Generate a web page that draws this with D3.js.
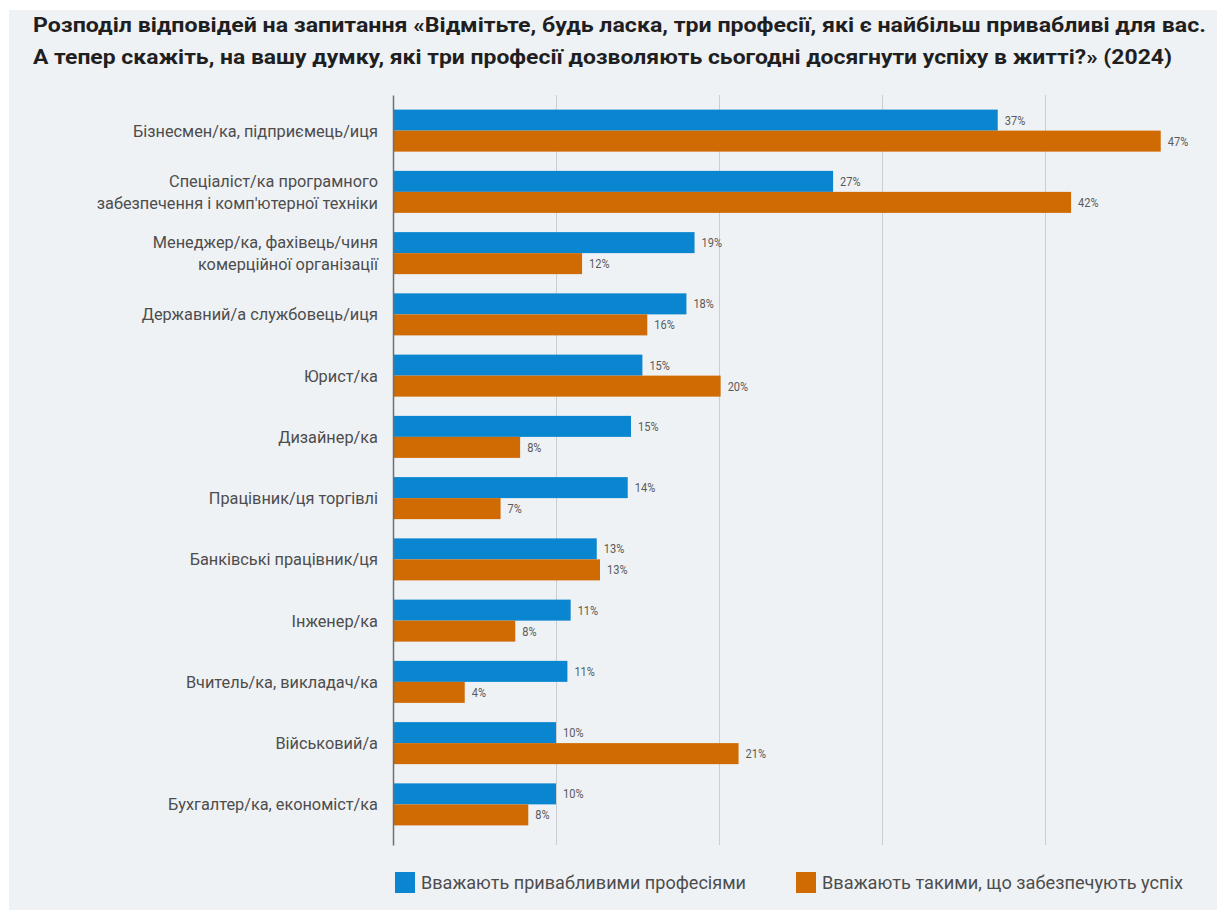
<!DOCTYPE html>
<html><head><meta charset="utf-8">
<script src="https://cdn.jsdelivr.net/npm/d3@7"></script>
<style>body{margin:0;background:#fff}svg{display:block}</style>
</head><body><svg id="c" width="1217" height="910"></svg>
<script>
const titleLines = [
  "Розподіл відповідей на запитання «Відмітьте, будь ласка, три професії, які є найбільш привабливі для вас.",
  "А тепер скажіть, на вашу думку, які три професії дозволяють сьогодні досягнути успіху в житті?» (2024)"
];
const categories = [
  "Бізнесмен/ка, підприємець/иця",
  "Спеціаліст/ка програмного\nзабезпечення і комп'ютерної техніки",
  "Менеджер/ка, фахівець/чиня\nкомерційної організації",
  "Державний/а службовець/иця",
  "Юрист/ка",
  "Дизайнер/ка",
  "Працівник/ця торгівлі",
  "Банківські працівник/ця",
  "Інженер/ка",
  "Вчитель/ка, викладач/ка",
  "Військовий/а",
  "Бухгалтер/ка, економіст/ка"
];
const attractive = [37.1, 27.0, 18.5, 18.0, 15.3, 14.6, 14.4, 12.5, 10.9, 10.7, 10.0, 10.0];
const success    = [47.1, 41.6, 11.6, 15.6, 20.1, 7.8, 6.6, 12.7, 7.5, 4.4, 21.2, 8.3];
const attractiveLabels = ["37%","27%","19%","18%","15%","15%","14%","13%","11%","11%","10%","10%"];
const successLabels    = ["47%","42%","12%","16%","20%","8%","7%","13%","8%","4%","21%","8%"];
const xTicks = [10, 20, 30, 40];
const seriesNames = ["Вважають привабливими професіями", "Вважають такими, що забезпечують успіх"];
const seriesColors = ["#0a86d0", "#d06a02"];

const svg = d3.select("#c");
svg.append("rect").attr("x", 9).attr("y", 10).attr("width", 1208).attr("height", 900).attr("fill", "#eff2f5");

const x = d3.scaleLinear().domain([0, 50]).range([393, 1208]);
const y = d3.scaleBand().domain(categories).range([100, 835]).paddingInner(0.314).paddingOuter(0.157);
const sub = d3.scaleBand().domain([0, 1]).range([0, y.bandwidth()]);

function fitTo(node, w) {
  node.setAttribute("textLength", w);
  node.setAttribute("lengthAdjust", "spacingAndGlyphs");
}

// title
const titleW = [1173, 1139];
svg.append("g").selectAll("text").data(titleLines).join("text")
  .attr("x", 33).attr("y", (d, i) => 32 + i * 32)
  .attr("font-family", "Roboto, 'Noto Sans', sans-serif").attr("font-weight", 700)
  .attr("font-size", 20.5).attr("fill", "#1f1f1f").text(d => d)
  .each(function (d, i) { fitTo(this, titleW[i]); });

// gridlines
const xAxis = d3.axisBottom(x).tickValues(xTicks).tickSize(-750).tickFormat("");
const gx = svg.append("g").attr("transform", "translate(0,845)").call(xAxis);
gx.select(".domain").remove();
gx.selectAll(".tick line").attr("stroke", "#c9ced3").attr("stroke-width", 1);

// bars
const rows = categories.map((c, i) => ({ c, v: [attractive[i], success[i]], l: [attractiveLabels[i], successLabels[i]] }));
const grp = svg.append("g").selectAll("g").data(rows).join("g")
  .attr("transform", d => `translate(0,${y(d.c)})`);
grp.selectAll("rect").data(d => d.v.map((v, k) => ({ v, k }))).join("rect")
  .attr("x", x(0)).attr("y", d => sub(d.k)).attr("height", sub.bandwidth())
  .attr("width", d => x(d.v) - x(0)).attr("fill", d => seriesColors[d.k]);
grp.selectAll("text").data(d => d.v.map((v, k) => ({ v, k, l: d.l[k] }))).join("text")
  .attr("x", d => x(d.v) + 7).attr("y", d => sub(d.k) + sub.bandwidth() / 2)
  .attr("dy", "0.35em").attr("font-family", "Roboto, sans-serif").attr("font-weight", 400)
  .attr("font-size", 13).attr("fill", "#5a5a5a").text(d => d.l)
  .each(function () { fitTo(this, this.getComputedTextLength() * 0.85); });

// zero axis
svg.append("g").attr("transform", `translate(${x(0)},0)`)
  .call(d3.axisLeft(d3.scaleLinear().range([95, 845])).ticks(0).tickSize(0))
  .select(".domain").attr("stroke", "#6d6f72").attr("stroke-width", 1.5);

// category labels
const lab = svg.append("g").selectAll("text").data(categories).join("text")
  .attr("text-anchor", "end").attr("font-family", "Roboto, sans-serif").attr("font-weight", 400)
  .attr("font-size", 17).attr("fill", "#4d4d4d");
lab.each(function (d) {
  const lines = d.split("\n");
  const cy = y(d) + y.bandwidth() / 2;
  d3.select(this).selectAll("tspan").data(lines).join("tspan")
    .attr("x", 378).attr("y", (l, i) => cy + (i - (lines.length - 1) / 2) * 22).attr("dy", "0.35em").text(l => l);
});
// global horizontal condensation, calibrated from the first label
const k = 245 / lab.filter((d, i) => i === 0).select("tspan").node().getComputedTextLength();
lab.selectAll("tspan").each(function () { fitTo(this, this.getComputedTextLength() * k); });

// legend
const legX = [395, 796];
const legTW = [325, 361];
const leg = svg.append("g").selectAll("g").data(seriesNames).join("g")
  .attr("transform", (d, i) => `translate(${legX[i]},872)`);
leg.append("rect").attr("width", 20).attr("height", 21).attr("fill", (d, i) => seriesColors[i]);
leg.append("text").attr("x", 26).attr("y", 11).attr("dy", "0.35em")
  .attr("font-family", "Roboto, sans-serif").attr("font-weight", 400).attr("font-size", 17.5)
  .attr("fill", "#4d4d4d").text(d => d)
  .each(function (d, i) { fitTo(this, legTW[i]); });
</script></body></html>
